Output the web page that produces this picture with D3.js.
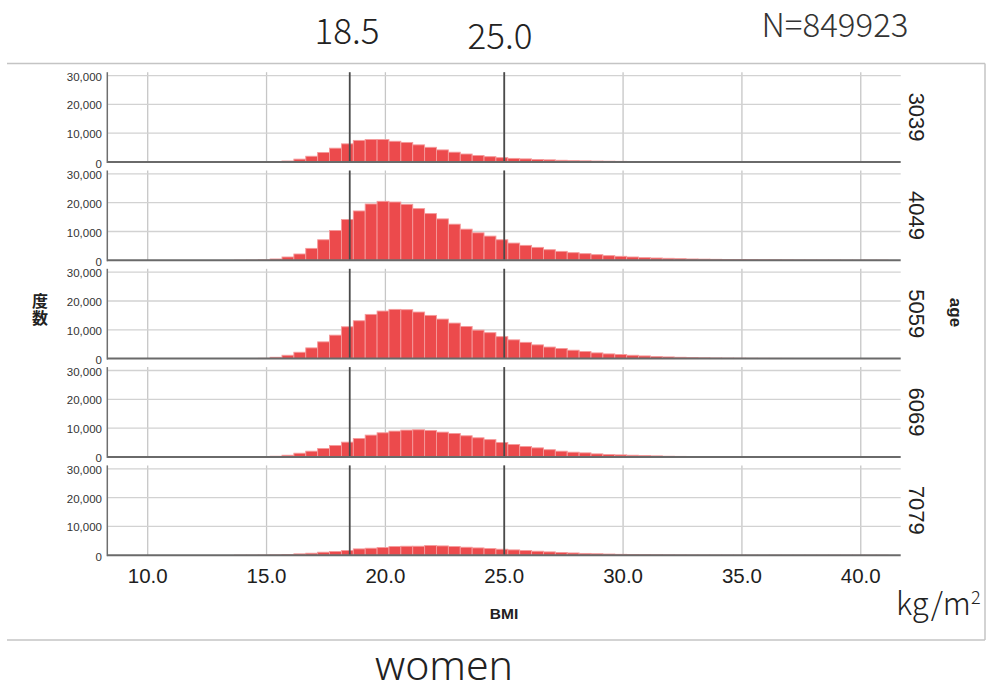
<!DOCTYPE html>
<html><head><meta charset="utf-8">
<script src="https://cdn.jsdelivr.net/npm/d3@7"></script>
<style>html,body{margin:0;padding:0;background:#fff;}svg{display:block;}</style>
</head><body>
<svg id="chart" width="986" height="693"></svg>
<script>
// ---------- data ----------
const binStarts = [13.65,14.15,14.65,15.15,15.65,16.15,16.65,17.15,17.65,18.15,18.65,19.15,19.65,20.15,20.65,21.15,21.65,22.15,22.65,23.15,23.65,24.15,24.65,25.15,25.65,26.15,26.65,27.15,27.65,28.15,28.65,29.15,29.65,30.15,30.65,31.15,31.65,32.15,32.65,33.15,33.65,34.15,34.65,35.15,35.65,36.15,36.65,37.15,37.65,38.15,38.65,39.15,39.65,40.15,40.65];
const binWidth = 0.5;
const ageGroups = ["3039","4049","5059","6069","7079"];
const counts3039 = [10,30,80,150,350,1000,2000,3300,4800,6300,7500,7800,7800,7200,6800,5950,5100,4200,3400,2770,2250,1850,1500,1250,1080,870,750,600,480,400,330,270,220,180,150,120,100,80,65,55,45,38,32,27,23,20,17,15,13,11,10,9,8,7,6];
const counts4049 = [30,70,150,460,1150,2190,4140,7130,10350,14150,17130,19550,20470,20240,19430,17940,16220,14380,12540,10810,9540,8400,7130,5980,5180,4490,3680,3100,2645,2300,1955,1610,1380,1150,920,800,690,575,460,400,340,290,250,210,180,150,130,110,95,80,70,60,50,45,40];
const counts5059 = [20,50,100,460,1160,2200,3720,5810,8140,11050,13140,15350,16510,17090,16980,16160,15000,13720,12330,11160,9880,9000,7620,6510,5640,4770,4010,3490,2910,2440,1980,1630,1400,1160,930,700,580,460,350,260,210,170,140,115,95,80,65,55,45,38,32,27,23,20,17];
const counts6069 = [15,40,100,230,580,1280,1980,2910,3950,5120,6400,7560,8370,8950,9300,9420,9190,8600,8140,7330,6630,6000,5000,4300,3600,3140,2500,1980,1630,1400,1050,810,700,580,470,350,230,180,140,110,90,75,60,50,40,33,27,22,18,15,12,10,8,7,6];
const counts7079 = [10,25,60,115,230,460,690,1040,1270,1610,2190,2420,2650,3000,3110,3110,3340,3220,3000,2760,2530,2300,2070,1840,1610,1380,1150,950,780,620,500,400,300,230,170,130,100,80,60,48,38,30,24,19,15,12,10,8,6,5,4,3,3,2,2];
const seriesCounts = [counts3039, counts4049, counts5059, counts6069, counts7079];
const xTicks = [10,15,20,25,30,35,40];
const yTicks = [0,10000,20000,30000];
const refLines = [18.5, 25.0];
const topLabels = ["18.5","25.0"];
const nLabel = "N=849923";
const xTitle = "BMI";
const yTitle = "度数";
const facetTitle = "age";
const unitLabel = "kg/m";
const footer = "women";

// ---------- layout ----------
const svg = d3.select("#chart");
const W = 986, H = 693;
svg.append("rect").attr("width",W).attr("height",H).attr("fill","#fff");

const x = d3.scaleLinear().domain([8.3, 41.68]).range([107.3, 900.7]);
const firstZero = 162, panelStep = 98.3, tick30 = 86.4, panelExtra = 3.4;
const fmt = d3.format(",");
const sans = "'Liberation Sans', Arial, sans-serif";
const jp = "'Noto Sans CJK JP', 'Noto Sans', sans-serif";

// outer frame (top, bottom, right)
const frame = svg.append("g").attr("stroke","#c4c4c4").attr("stroke-width",1.5).attr("fill","none");
frame.append("line").attr("x1",7).attr("x2",985).attr("y1",63.5).attr("y2",63.5);
frame.append("line").attr("x1",7).attr("x2",985).attr("y1",640).attr("y2",640);
frame.append("line").attr("x1",985).attr("x2",985).attr("y1",63.5).attr("y2",640);

ageGroups.forEach((grp, i) => {
  const zero = firstZero + i*panelStep;
  const y = d3.scaleLinear().domain([0,30000]).range([zero, zero - tick30]);
  const top = zero - tick30 - panelExtra;
  const g = svg.append("g");

  // vertical grid
  g.selectAll(".vg").data(xTicks).join("line")
    .attr("x1", d=>x(d)).attr("x2", d=>x(d)).attr("y1", top).attr("y2", zero)
    .attr("stroke","#c6c6c6").attr("stroke-width",1.3);
  // horizontal grid
  g.selectAll(".hg").data(yTicks.filter(d=>d>0)).join("line")
    .attr("x1", x.range()[0]).attr("x2", x.range()[1]).attr("y1", d=>y(d)).attr("y2", d=>y(d))
    .attr("stroke","#d2d2d2").attr("stroke-width",1.3);

  // bars
  const data = binStarts.map((b, k) => ({b, v: seriesCounts[i][k]}));
  g.selectAll(".bar").data(data).join("rect")
    .attr("x", d=>x(d.b)).attr("width", d=>x(d.b+binWidth)-x(d.b))
    .attr("y", d=>y(d.v)).attr("height", d=>zero - y(d.v))
    .attr("fill","#ec4a4c").attr("stroke","#f59a9b").attr("stroke-width",0.9);

  // reference lines
  g.selectAll(".ref").data(refLines).join("line")
    .attr("x1", d=>x(d)).attr("x2", d=>x(d)).attr("y1", top).attr("y2", zero)
    .attr("stroke","#4a4a4a").attr("stroke-width",1.8);

  // axes lines
  g.append("line").attr("x1", x.range()[0]).attr("x2", x.range()[0]).attr("y1", top).attr("y2", zero+1)
    .attr("stroke","#6e6e6e").attr("stroke-width",1.5);
  g.append("line").attr("x1", x.range()[0]).attr("x2", x.range()[1]).attr("y1", zero).attr("y2", zero)
    .attr("stroke","#6a6a6a").attr("stroke-width",2);

  // y tick labels
  g.selectAll(".yl").data(yTicks).join("text")
    .attr("x", 102).attr("y", d=>y(d) + (d===0 ? 5.5 : 5))
    .attr("text-anchor","end").attr("font-family",sans).attr("font-size",11.5)
    .attr("fill","#333").text(d=>fmt(d));

  // facet label
  g.append("text").attr("transform", `translate(908.5,${(top+zero)/2}) rotate(90)`)
    .attr("text-anchor","middle").attr("font-family",sans).attr("font-size",22)
    .attr("fill","#222").text(grp);
});

// x tick labels
const lastZero = firstZero + 4*panelStep;
svg.selectAll(".xl").data(xTicks).join("text")
  .attr("x", d=>x(d)).attr("y", lastZero + 27.5)
  .attr("text-anchor","middle").attr("font-family",sans).attr("font-size",20.5)
  .attr("fill","#1e1e1e").text(d=>d3.format(".1f")(d));

svg.append("text").attr("x", (x.range()[0]+x.range()[1])/2).attr("y", 618.5)
  .attr("text-anchor","middle").attr("font-family",sans).attr("font-weight","bold")
  .attr("font-size",15.5).attr("fill","#222").text(xTitle);

// y title: vertical CJK text
svg.append("text").attr("x", 40).attr("y", 309.5)
  .attr("text-anchor","middle")
  .style("writing-mode","vertical-rl").style("letter-spacing","1px")
  .attr("font-family",jp).attr("font-weight","bold")
  .attr("font-size",16).attr("fill","#222").text(yTitle);

// facet title
svg.append("text").attr("transform","translate(950,312.5) rotate(90)")
  .attr("text-anchor","middle").attr("font-family",sans).attr("font-weight","bold")
  .attr("font-size",17).attr("fill","#222").text(facetTitle);

// top annotations
svg.append("text").attr("x", 347).attr("y", 43.5).attr("text-anchor","middle")
  .attr("font-family",jp).attr("font-weight",300).attr("font-size",35).attr("fill","#222").text(topLabels[0]);
svg.append("text").attr("x", 500).attr("y", 48.5).attr("text-anchor","middle")
  .attr("font-family",jp).attr("font-weight",300).attr("font-size",35).attr("fill","#222").text(topLabels[1]);
svg.append("text").attr("x", 835).attr("y", 37).attr("text-anchor","middle")
  .attr("font-family",jp).attr("font-weight",300).attr("font-size",33).attr("fill","#333").text(nLabel);

// unit
const u = svg.append("text").attr("x", 896).attr("y", 615).attr("font-family",jp).attr("font-weight",300)
  .attr("font-size",31).attr("fill","#222");
u.append("tspan").text(unitLabel);
u.append("tspan").attr("font-size",18).attr("dy",-11).text("2");

// footer
svg.append("text").attr("x", 444).attr("y", 680).attr("text-anchor","middle")
  .attr("font-family","'Noto Sans', sans-serif").attr("font-weight",300).attr("font-size",41).attr("fill","#222").text(footer);
</script>
</body></html>
